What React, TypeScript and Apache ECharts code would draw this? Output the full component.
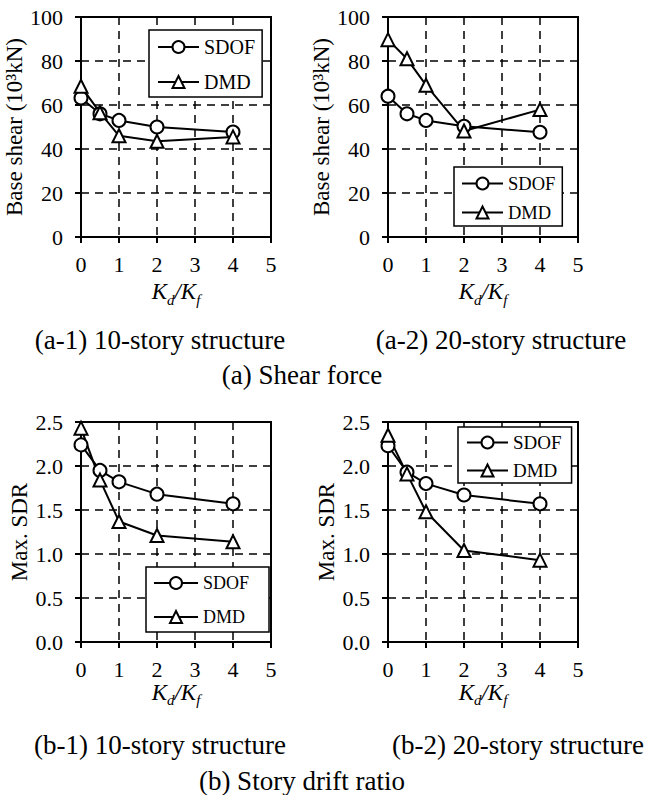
import React, { useEffect, useRef } from "react";
import * as echarts from "echarts";

// Stiffness ratio Kd/Kf sampled in every panel
const kdKf = [0, 0.5, 1, 2, 4];

// Base shear (10^3 kN)
const shear10Sdof = [63.2, 56, 53, 50, 47.7];
const shear10Dmd = [68.5, 56.5, 46, 43.5, 45.5];
const shear20Sdof = [64, 56, 53, 50.3, 47.6];
const shear20Dmd = [89.7, 81, 69, 48.2, 57.9];

// Maximum story drift ratio
const sdr10Sdof = [2.24, 1.95, 1.82, 1.68, 1.57];
const sdr10Dmd = [2.43, 1.84, 1.37, 1.21, 1.14];
const sdr20Sdof = [2.23, 1.93, 1.8, 1.67, 1.57];
const sdr20Dmd = [2.35, 1.91, 1.48, 1.04, 0.93];

const seriesNames = ["SDOF", "DMD"];
const shearTitle = "Base shear (10³kN)";
const sdrTitle = "Max. SDR";
const captions = [
  "(a-1) 10-story structure",
  "(a-2) 20-story structure",
  "(a) Shear force",
  "(b-1) 10-story structure",
  "(b-2) 20-story structure",
  "(b) Story drift ratio",
];

const FONT = "Liberation Serif";
const INK = "#000";

type Panel = {
  left: number;
  top: number;
  yMax: number;
  yInterval: number;
  decimals: number;
  yName: string;
  yNameGap: number;
  xNameGap: number;
  sdof: number[];
  dmd: number[];
  legend: {
    left: number;
    top: number;
    padding: number[];
    itemWidth: number;
    itemGap: number;
    fontSize: number;
  };
};

const panels: Panel[] = [
  {
    left: 81, top: 17, yMax: 100, yInterval: 20, decimals: 0,
    yName: shearTitle, yNameGap: 42, xNameGap: 43,
    sdof: shear10Sdof, dmd: shear10Dmd,
    legend: { left: 149, top: 30, padding: [7, 7, 5, 8], itemWidth: 41, itemGap: 15, fontSize: 20 },
  },
  {
    left: 388, top: 17, yMax: 100, yInterval: 20, decimals: 0,
    yName: shearTitle, yNameGap: 42, xNameGap: 43,
    sdof: shear20Sdof, dmd: shear20Dmd,
    legend: { left: 454, top: 167, padding: [7, 7, 4, 7], itemWidth: 41, itemGap: 10, fontSize: 18.5 },
  },
  {
    left: 81, top: 422, yMax: 2.5, yInterval: 0.5, decimals: 1,
    yName: sdrTitle, yNameGap: 50, xNameGap: 38,
    sdof: sdr10Sdof, dmd: sdr10Dmd,
    legend: { left: 146, top: 567, padding: [7, 20, 6, 7], itemWidth: 44, itemGap: 16, fontSize: 18 },
  },
  {
    left: 388, top: 422, yMax: 2.5, yInterval: 0.5, decimals: 1,
    yName: sdrTitle, yNameGap: 50, xNameGap: 38,
    sdof: sdr20Sdof, dmd: sdr20Dmd,
    legend: { left: 458, top: 427, padding: [6, 10, 3, 8], itemWidth: 41, itemGap: 9, fontSize: 19 },
  },
];

const PLOT_W = 190;
const PLOT_H = 220;

function buildOption() {
  const grid = panels.map((p) => ({
    left: p.left,
    top: p.top,
    width: PLOT_W,
    height: PLOT_H,
    show: true,
    borderColor: INK,
    borderWidth: 2,
    backgroundColor: "transparent",
  }));

  const dash = { color: INK, width: 1.5, type: [8, 6] };

  const xAxis = panels.map((p, i) => ({
    type: "value",
    gridIndex: i,
    min: 0,
    max: 5,
    interval: 1,
    axisLine: { show: true, onZero: false, lineStyle: { color: INK, width: 2 } },
    axisTick: { show: true, length: 6, lineStyle: { color: INK, width: 2 } },
    axisLabel: { margin: 16, fontSize: 22, fontFamily: FONT, color: INK },
    splitLine: { show: true, lineStyle: dash },
    name: "{i|K}{s|d}{i|/K}{s|f}",
    nameLocation: "middle",
    nameGap: p.xNameGap,
    nameTextStyle: {
      color: INK,
      fontFamily: FONT,
      rich: {
        i: { fontFamily: FONT, fontStyle: "italic", fontSize: 23, lineHeight: 23, color: INK, verticalAlign: "top" },
        s: { fontFamily: FONT, fontStyle: "italic", fontSize: 15, lineHeight: 15, color: INK, verticalAlign: "top", padding: [12, 0, 0, 0] },
      },
    },
  }));

  const yAxis = panels.map((p, i) => ({
    type: "value",
    gridIndex: i,
    min: 0,
    max: p.yMax,
    interval: p.yInterval,
    axisLine: { show: true, onZero: false, lineStyle: { color: INK, width: 2 } },
    axisTick: { show: true, length: 6, lineStyle: { color: INK, width: 2 } },
    axisLabel: {
      margin: 18,
      fontSize: 22,
      fontFamily: FONT,
      color: INK,
      formatter: (v: number) => v.toFixed(p.decimals),
    },
    splitLine: { show: true, lineStyle: dash },
    name: p.yName,
    nameLocation: "middle",
    nameRotate: 90,
    nameGap: p.yNameGap,
    nameTextStyle: { fontFamily: FONT, fontSize: 23, color: INK },
  }));

  const series: any[] = [];
  panels.forEach((p, i) => {
    const common = {
      type: "line",
      xAxisIndex: i,
      yAxisIndex: i,
      lineStyle: { color: INK, width: 2 },
      itemStyle: { color: "#fff", borderColor: INK, borderWidth: 2 },
      emphasis: { disabled: true },
      showAllSymbol: true,
    };
    series.push({
      ...common,
      name: seriesNames[0],
      symbol: "circle",
      symbolSize: 13,
      data: kdKf.map((x, k) => [x, p.sdof[k]]),
    });
    series.push({
      ...common,
      name: seriesNames[1],
      symbol: "triangle",
      symbolSize: 13,
      data: kdKf.map((x, k) => [x, p.dmd[k]]),
    });
  });

  const legend = panels.map((p) => ({
    data: seriesNames,
    orient: "vertical",
    left: p.legend.left,
    top: p.legend.top,
    padding: p.legend.padding,
    itemWidth: p.legend.itemWidth,
    itemHeight: 15,
    itemGap: p.legend.itemGap,
    backgroundColor: "#fff",
    borderColor: INK,
    borderWidth: 1.5,
    borderRadius: 0,
    selectedMode: false,
    textStyle: {
      fontFamily: FONT,
      fontSize: p.legend.fontSize,
      lineHeight: Math.round(p.legend.fontSize),
      color: INK,
    },
  }));

  const captionPos = [
    [160, 340],
    [501, 340],
    [302, 375],
    [160, 745],
    [518, 745],
    [302, 781],
  ];
  const graphic = captions.map((text, k) => ({
    type: "text",
    x: captionPos[k][0],
    y: captionPos[k][1],
    style: {
      text,
      fontFamily: FONT,
      fontSize: 27,
      fill: INK,
      textAlign: "center",
      textVerticalAlign: "middle",
      align: "center",
      verticalAlign: "middle",
    },
  }));

  return {
    animation: false,
    backgroundColor: "#fff",
    textStyle: { fontFamily: FONT },
    grid,
    xAxis,
    yAxis,
    series,
    legend,
    graphic,
  };
}

export default function App() {
  const ref = useRef<HTMLDivElement>(null);

  useEffect(() => {
    if (!ref.current) return;
    const chart = echarts.init(ref.current, null, { renderer: "svg" });
    chart.setOption(buildOption() as any);
    return () => chart.dispose();
  }, []);

  return (
    <div
      ref={ref}
      style={{
        position: "absolute",
        left: 0,
        top: 0,
        width: 649,
        height: 795,
        background: "#fff",
      }}
    />
  );
}
